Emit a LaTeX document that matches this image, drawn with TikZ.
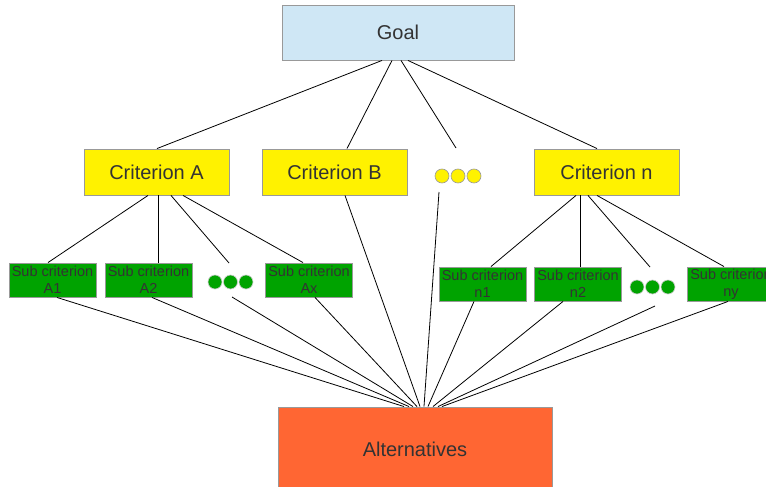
\documentclass[tikz,border=0pt]{standalone}
\usepackage{fontspec}
\setmainfont{Liberation Sans}
\begin{document}
\begin{tikzpicture}[x=1pt,y=-1pt,
  txt/.style={text=textgray},
  box/.style={draw=boxgray,line width=0.9pt,inner sep=0pt,txt},
  goalbox/.style={box,fill=goalblue,minimum width=232pt,minimum height=55pt,font=\fontsize{20}{24}\selectfont},
  critbox/.style={box,fill=yellow,minimum width=145pt,minimum height=46pt,font=\fontsize{20}{24}\selectfont},
  subbox/.style={box,fill=subgreen,minimum width=87pt,minimum height=34pt,align=center,font=\fontsize{14.5}{17}\selectfont},
  altbox/.style={box,fill=altorange,minimum width=274pt,minimum height=84pt,font=\fontsize{20}{24}\selectfont},
  ydot/.style={circle,draw=boxgray,line width=0.6pt,fill=yellow,minimum size=14pt,inner sep=0pt},
  gdot/.style={circle,draw=gray!40,line width=0.6pt,fill=subgreen,minimum size=14pt,inner sep=0pt},
  link/.style={draw=black,line width=0.8pt}]
\definecolor{textgray}{HTML}{333333}
\definecolor{boxgray}{HTML}{999999}
\definecolor{goalblue}{HTML}{CFE7F5}
\definecolor{subgreen}{HTML}{00A300}
\definecolor{altorange}{HTML}{FF6633}
\useasboundingbox (0,0) rectangle (766,487);
\clip (0,0) rectangle (766,487);
\fill[white] (0,0) rectangle (766,487);

% nodes
\node[goalbox] (goal) at (398,32.5) {Goal};
\node[critbox] (ca) at (156.5,172) {Criterion A};
\node[critbox] (cb) at (334.5,172) {Criterion B};
\node[critbox] (cn) at (606.5,172) {Criterion n};
\node[ydot] (yd1) at (442,176) {};
\node[ydot] (yd2) at (458,176) {};
\node[ydot] (yd3) at (474,176) {};

\node[subbox] (a1) at (52.5,280) {Sub criterion\\A1};
\node[subbox] (a2) at (148.5,280) {Sub criterion\\A2};
\node[gdot] (ga1) at (215,282) {};
\node[gdot] (ga2) at (230.5,282) {};
\node[gdot] (ga3) at (246,282) {};
\node[subbox] (ax) at (309,280) {Sub criterion\\Ax};

\node[subbox] (n1) at (482.5,284) {Sub criterion\\n1};
\node[subbox] (n2) at (578,284) {Sub criterion\\n2};
\node[gdot] (gn1) at (637,287) {};
\node[gdot] (gn2) at (652.5,287) {};
\node[gdot] (gn3) at (668,287) {};
\node[subbox] (ny) at (731,284) {Sub criterion\\ny};

\node[altbox] (alt) at (415,449) {Alternatives};

% free ends near the dot groups (yshift is in page direction: positive = up)
\coordinate (ydtop) at ([xshift=-2pt,yshift=28pt]yd2.center);
\coordinate (ydbot) at ([xshift=-19pt,yshift=-16pt]yd2.center);
\coordinate (gatop) at ([xshift=-1.5pt,yshift=19pt]ga2.center);
\coordinate (gabot) at ([xshift=1.5pt,yshift=-15pt]ga2.center);
\coordinate (gntop) at ([xshift=-2.5pt,yshift=20pt]gn2.center);
\coordinate (gnbot) at ([xshift=2.5pt,yshift=-19pt]gn2.center);

% goal to criteria
\draw[link] ([xshift=-16pt]goal.south) -- ([xshift=0.5pt]ca.north);
\draw[link] ([xshift=-6pt]goal.south) -- ([xshift=12.5pt]cb.north);
\draw[link] ([xshift=3pt]goal.south) -- (ydtop);
\draw[link] ([xshift=10pt]goal.south) -- ([xshift=-9.5pt]cn.north);

% criterion A to sub criteria
\draw[link] ([xshift=-8.5pt]ca.south) -- ([xshift=-4.5pt]a1.north);
\draw[link] ([xshift=1.5pt]ca.south) -- ([xshift=9.5pt]a2.north);
\draw[link] ([xshift=14.5pt]ca.south) -- (gatop);
\draw[link] ([xshift=26.5pt]ca.south) -- ([xshift=-6pt]ax.north);

% criterion n to sub criteria
\draw[link] ([xshift=-30.5pt]cn.south) -- ([xshift=8.5pt]n1.north);
\draw[link] ([xshift=-26.5pt]cn.south) -- ([xshift=2pt]n2.north);
\draw[link] ([xshift=-18.5pt]cn.south) -- (gntop);
\draw[link] ([xshift=-9.5pt]cn.south) -- ([xshift=-7pt]ny.north);

% to alternatives
\draw[link] ([xshift=4.5pt]a1.south) -- ([xshift=-11pt]alt.north);
\draw[link] ([xshift=3.5pt]a2.south) -- ([xshift=-6pt]alt.north);
\draw[link] (gabot) -- ([xshift=-2pt]alt.north);
\draw[link] ([xshift=6pt]ax.south) -- ([xshift=2pt]alt.north);
\draw[link] ([xshift=10.5pt]cb.south) -- ([xshift=5pt]alt.north);
\draw[link] (ydbot) -- ([xshift=9pt]alt.north);
\draw[link] ([xshift=-8.5pt]n1.south) -- ([xshift=13pt]alt.north);
\draw[link] ([xshift=-15pt]n2.south) -- ([xshift=18pt]alt.north);
\draw[link] (gnbot) -- ([xshift=23pt]alt.north);
\draw[link] ([xshift=-3pt]ny.south) -- ([xshift=27pt]alt.north);
\end{tikzpicture}
\end{document}
